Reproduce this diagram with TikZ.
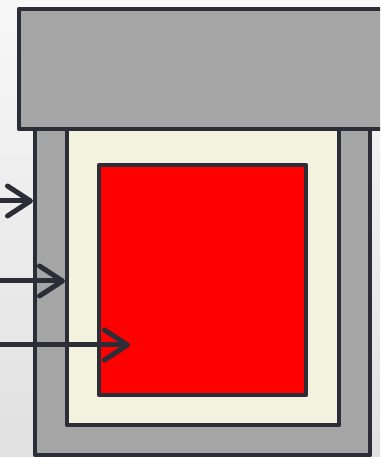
\documentclass[tikz,border=0pt]{standalone}
\usetikzlibrary{arrows.meta}
\definecolor{framegray}{RGB}{166,166,166}
\definecolor{edgedark}{RGB}{44,45,55}
\definecolor{cream}{RGB}{242,242,223}
\tikzset{
  wall/.style={draw=edgedark, line width=0.45mm, line join=round},
  pointer/.style={draw=edgedark, line width=0.5mm, line cap=round,
    -{Straight Barb[length=2.3mm, width=3mm, round]}}
}
\begin{document}
\begin{tikzpicture}[x=0.1mm, y=-0.1mm]
\useasboundingbox (0,0) rectangle (380,457);
\clip (0,0) rectangle (380,457);
\shade[top color=gray!6, bottom color=gray!24] (0,0) rectangle (380,457);

\coordinate (O1) at (35,100);
\coordinate (O2) at (370,455);
\coordinate (C1) at (67,100);
\coordinate (C2) at (339,425);
\coordinate (R1) at (99,165);
\coordinate (R2) at (306,395);
\coordinate (H1) at (19,9);
\coordinate (H2) at (400,129);

% layers, outside in
\draw[wall, fill=framegray] (O1) rectangle (O2);
\draw[wall, fill=cream] (C1) rectangle (C2);
\draw[wall, fill=red] (R1) rectangle (R2);
\draw[wall, fill=framegray] (H1) rectangle (H2);

% pointers from the left
\coordinate (P1) at (-5,201);
\coordinate (P2) at (-5,281);
\coordinate (P3) at (-5,345);
\coordinate (T3) at (130,345);

\draw[pointer] (P1) -- ([xshift=-0.2mm] O1 |- P1);
\draw[pointer] (P2) -- ([xshift=-0.2mm] C1 |- P2);
\draw[pointer] (P3) -- (T3);
\end{tikzpicture}
\end{document}
